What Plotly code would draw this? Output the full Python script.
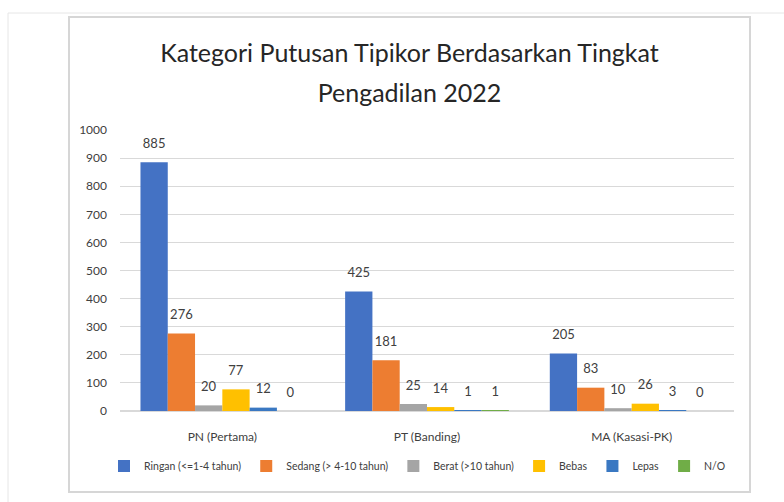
import plotly.graph_objects as go

categories = ["PN (Pertama)", "PT (Banding)", "MA (Kasasi-PK)"]
series_names = ["Ringan (<=1-4 tahun)", "Sedang (> 4-10 tahun)", "Berat (>10 tahun)", "Bebas", "Lepas", "N/O"]
ringan = [885, 425, 205]
sedang = [276, 181, 83]
berat = [20, 25, 10]
bebas = [77, 14, 26]
lepas = [12, 1, 3]
no_data = [0, 1, 0]
series_values = [ringan, sedang, berat, bebas, lepas, no_data]
y_ticks = [0, 100, 200, 300, 400, 500, 600, 700, 800, 900, 1000]

colors = ["#4472C4", "#ED7D31", "#A5A5A5", "#FFC000", "#3A78C2", "#70AD47"]
FONT = "Lato"
TXT = "#404040"
LABEL_GAP = 30  # visual gap (in axis units) between bar top and its value label

W, H = 784, 502
ML, MR, MT, MB = 120, 50, 130, 91
PW, PH = W - ML - MR, H - MT - MB


def px_x(px):
    return (px - ML) / PW


def px_y(py):
    return (H - MB - py) / PH


fig = go.Figure()
for i, (name, vals) in enumerate(zip(series_names, series_values)):
    fig.add_trace(go.Bar(
        name=name, x=categories, y=vals, marker_color=colors[i],
        marker_line_width=0, offsetgroup=str(i), hoverinfo="skip",
    ))
    fig.add_trace(go.Bar(
        x=categories, y=[LABEL_GAP] * len(vals), base=vals,
        offsetgroup=str(i), marker_color="rgba(0,0,0,0)", marker_line_width=0,
        text=[str(v) for v in vals], textposition="outside",
        textfont=dict(family=FONT, size=13, color=TXT),
        showlegend=False, hoverinfo="skip", cliponaxis=False,
    ))

shapes = [
    dict(type="line", xref="paper", yref="paper", x0=px_x(8), x1=px_x(784), y0=px_y(13), y1=px_y(13),
         line=dict(color="#e6e6e6", width=1)),
    dict(type="line", xref="paper", yref="paper", x0=px_x(8), x1=px_x(8), y0=px_y(13), y1=px_y(502),
         line=dict(color="#e6e6e6", width=1)),
    dict(type="rect", xref="paper", yref="paper", x0=px_x(69), x1=px_x(750), y0=px_y(17), y1=px_y(492),
         line=dict(color="#d6d6d6", width=2), layer="below"),
]

title_text = ('<span style="font-size:25px">Kategori Putusan Tipikor Berdasarkan Tingkat</span><br>'
              '<span style="font-size:25px">Pengadilan 2022</span>')

fig.update_layout(
    width=W, height=H,
    margin=dict(l=ML, r=MR, t=MT, b=MB, autoexpand=False),
    paper_bgcolor="white", plot_bgcolor="white",
    barmode="group", bargap=0.2, bargroupgap=0,
    title=dict(text=title_text,
               x=409.5 / W, xref="container", xanchor="center",
               y=1 - 62 / H, yref="container", yanchor="top",
               font=dict(family=FONT, size=31, color="#262626")),
    font=dict(family=FONT, size=12, color=TXT),
    shapes=shapes,
    showlegend=True,
    legend=dict(orientation="h", x=px_x(104), xanchor="left", y=px_y(466), yanchor="middle",
                font=dict(family=FONT, size=10.5, color=TXT), itemwidth=30,
                traceorder="normal"),
    yaxis=dict(range=[0, 1000], tickvals=y_ticks, showgrid=True, gridcolor="#d9d9d9",
               gridwidth=1, zeroline=True, zerolinecolor="#d9d9d9", showline=False,
               ticklabelstandoff=12, tickfont=dict(family=FONT, size=12, color=TXT)),
    xaxis=dict(showline=False, ticks="", ticklabelstandoff=17,
               tickfont=dict(family=FONT, size=12, color=TXT)),
)

fig.write_html("out.html", config={"displayModeBar": False},
               post_script="document.body.style.margin='0';")
